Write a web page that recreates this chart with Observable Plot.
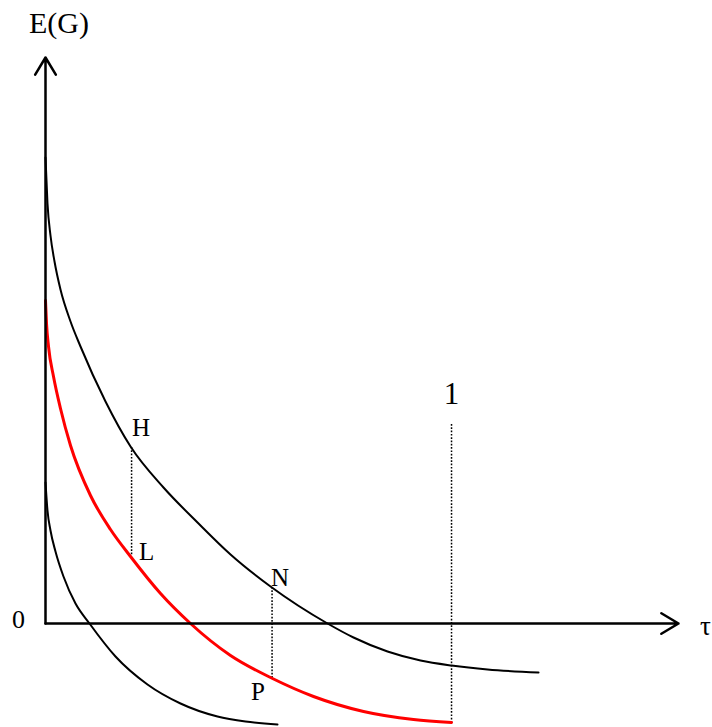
<!DOCTYPE html>
<html>
<head>
<meta charset="utf-8">
<script src="https://cdn.jsdelivr.net/npm/d3@7"></script>
<script src="https://cdn.jsdelivr.net/npm/@observablehq/plot@0.6"></script>
<style>
  html, body { margin: 0; padding: 0; background: #fff; }
  #chart svg { display: block; }
</style>
</head>
<body>
<div id="chart"></div>
<script>
// Upper expected-gain curve E(G) against the tax rate τ
const upperTau = [0, 0.0049, 0.0123, 0.0222, 0.0369, 0.0616, 0.0862, 0.1478, 0.2094, 0.2906, 0.3744, 0.4557, 0.5542, 0.6946, 0.7586, 0.8424, 0.9236, 1.0, 1.0887, 1.2143];
const upperGain = [4.66, 4.20, 3.88, 3.62, 3.34, 3.02, 2.77, 2.22, 1.77, 1.36, 1.01, 0.69, 0.37, 0.0, -0.14, -0.28, -0.37, -0.42, -0.46, -0.49];

// Middle curve (red), ending at τ = 1
const middleTau = [0, 0.0025, 0.0074, 0.0197, 0.0369, 0.0616, 0.1108, 0.1601, 0.2094, 0.2833, 0.3571, 0.4557, 0.5591, 0.6601, 0.7833, 0.9064, 1.0];
const middleGain = [3.23, 3.00, 2.77, 2.47, 2.15, 1.78, 1.28, 0.94, 0.67, 0.30, 0.0, -0.32, -0.55, -0.73, -0.88, -0.96, -0.99];

// Lower curve
const lowerTau = [0, 0.0049, 0.0123, 0.0246, 0.0443, 0.0739, 0.1084, 0.1724, 0.2512, 0.3325, 0.4236, 0.4926, 0.5714];
const lowerGain = [1.41, 1.13, 0.93, 0.72, 0.47, 0.20, 0.0, -0.33, -0.61, -0.80, -0.93, -0.98, -1.01];

// Axis extents
const tauMax = 1.559;
const gainMax = 5.66;

// Marked points on the curves
const pointNames = ["H", "L", "N", "P"];
const pointTau = [0.212, 0.212, 0.558, 0.558];
const pointGain = [1.76, 0.67, 0.36, -0.55];

// Reference line at τ = 1
const unitTau = 1;
const unitTop = 1.99;
const unitBottom = -0.99;

const toRows = (xs, ys) => xs.map((x, i) => ({tau: x, gain: ys[i]}));
const upper = toRows(upperTau, upperGain);
const middle = toRows(middleTau, middleGain);
const lower = toRows(lowerTau, lowerGain);
const points = pointNames.map((name, i) => ({name, tau: pointTau[i], gain: pointGain[i]}));

const labelOffsets = {H: [9.5, -20], L: [15, -5], N: [8, -10], P: [-14, 13]};
const dotted = {stroke: "black", strokeWidth: 1.5, strokeDasharray: "1.7,1.6"};
const serif = "'Liberation Serif', 'Times New Roman', serif";

const chart = Plot.plot({
  width: 712,
  height: 727,
  margin: 0,
  x: {domain: [0, tauMax], range: [45, 678]},
  y: {domain: [0, gainMax], range: [623, 57]},
  axis: null,
  style: {background: "#fff", fontFamily: serif},
  marks: [
    // dotted drop lines H–L, N–P and at τ = 1
    Plot.ruleX([0, 2], {
      x: (i) => pointTau[i],
      y1: (i) => pointGain[i],
      y2: (i) => pointGain[i + 1],
      ...dotted
    }),
    Plot.ruleX([unitTau], {x: (d) => d, y1: unitTop, y2: unitBottom, ...dotted}),
    // curves
    Plot.line(lower, {x: "tau", y: "gain", stroke: "black", strokeWidth: 2, curve: "monotone-x"}),
    Plot.line(middle, {x: "tau", y: "gain", stroke: "#ff0000", strokeWidth: 3, curve: "monotone-x"}),
    Plot.line(upper, {x: "tau", y: "gain", stroke: "black", strokeWidth: 2, curve: "monotone-x"}),
    // axes with arrowheads
    Plot.arrow([0], {x1: 0, y1: 0, x2: 0, y2: gainMax, stroke: "black", strokeWidth: 2.5, headLength: 12, headAngle: 62}),
    Plot.arrow([0], {x1: 0, y1: 0, x2: tauMax, y2: 0, stroke: "black", strokeWidth: 2.5, headLength: 12, headAngle: 62}),
    // point labels
    ...points.map((p) =>
      Plot.text([p], {
        x: "tau", y: "gain", text: "name",
        dx: labelOffsets[p.name][0], dy: labelOffsets[p.name][1],
        fontSize: 25, fill: "black", fontFamily: serif
      })
    ),
    // axis labels
    Plot.text(["1"], {x: unitTau, y: unitTop, text: (d) => d, dy: -30, fontSize: 31, fill: "black", fontFamily: serif}),
    Plot.text(["0"], {x: 0, y: 0, text: (d) => d, dx: -27, dy: -4, fontSize: 26, fill: "black", fontFamily: serif}),
    Plot.text(["τ"], {x: tauMax, y: 0, text: (d) => d, dx: 27, dy: 3, fontSize: 27, fill: "black", fontFamily: serif}),
    Plot.text(["E(G)"], {x: 0, y: gainMax, text: (d) => d, dx: 13.5, dy: -34, fontSize: 30, fill: "black", fontFamily: serif})
  ]
});

document.getElementById("chart").appendChild(chart);
</script>
</body>
</html>
